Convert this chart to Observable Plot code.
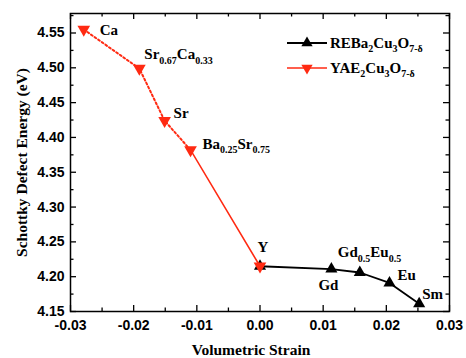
<!DOCTYPE html>
<html><head><meta charset="utf-8">
<script src="https://cdn.jsdelivr.net/npm/d3@7"></script>
<script src="https://cdn.jsdelivr.net/npm/@observablehq/plot@0.6"></script>
<style>body{margin:0;background:#fff} svg{display:block;background:#fff}</style>
</head><body><div id="chart"></div>
<script>
// ---- data ----
const reLabels = ["Y", "Gd", "Gd_{0.5}Eu_{0.5}", "Eu", "Sm"];
const reStrain = [0, 0.0113, 0.0158, 0.0205, 0.0252];
const reEnergy = [4.215, 4.211, 4.206, 4.191, 4.161];

const yaeLabels = ["Ca", "Sr_{0.67}Ca_{0.33}", "Sr", "Ba_{0.25}Sr_{0.75}", "Y"];
const yaeStrain = [-0.0279, -0.0191, -0.0151, -0.0110, 0];
const yaeEnergy = [4.555, 4.499, 4.424, 4.382, 4.215];

const seriesNames = ["REBa_{2}Cu_{3}O_{7-δ}", "YAE_{2}Cu_{3}O_{7-δ}"];
const xTicks = [-0.03, -0.02, -0.01, 0, 0.01, 0.02, 0.03];
const yTicks = [4.15, 4.20, 4.25, 4.30, 4.35, 4.40, 4.45, 4.50, 4.55];
const xTitle = "Volumetric Strain";
const yTitle = "Schottky Defect Energy (eV)";

// ---- build ----
const re = reLabels.map((l, i) => ({label: l, x: reStrain[i], y: reEnergy[i]}));
const yae = yaeLabels.map((l, i) => ({label: l, x: yaeStrain[i], y: yaeEnergy[i]}));
const RED = "#ff2a12";
const serif = "'Liberation Serif', 'Times New Roman', serif";
const sans = "'Liberation Sans', Arial, sans-serif";

const W = 466, H = 358, mL = 70, mR = 17, mT = 13, mB = 47;
const pw = W - mL - mR, ph = H - mT - mB;
const xMinor = d3.range(xTicks.length - 1).map(i => (xTicks[i] + xTicks[i + 1]) / 2);
const yMinor = d3.range(yTicks.length - 1).map(i => (yTicks[i] + yTicks[i + 1]) / 2).concat([yTicks[yTicks.length - 1] + 0.025]);

// label placement (pixel offsets from the point)
const place = {
  "Ca": [16, 1, "start"],
  "Sr_{0.67}Ca_{0.33}": [5, -14, "start"],
  "Sr": [9, -8, "start"],
  "Ba_{0.25}Sr_{0.75}": [12, -6, "start"],
  "Y": [3, -19, "middle"],
  "Gd": [-3, 16, "middle"],
  "Gd_{0.5}Eu_{0.5}": [-22, -20, "start"],
  "Eu": [8, -8, "start"],
  "Sm": [3, -10, "start"]
};
const allLabels = re.concat(yae.filter(d => d.label !== "Y"));

const tickStyle = {stroke: "black", strokeWidth: 1.3};
const marks = [
  Plot.frame({stroke: "black", strokeWidth: 1.5}),
  Plot.tickX(xTicks, {x: d => d, insetTop: ph - 6, ...tickStyle}),
  Plot.tickX(xTicks, {x: d => d, insetBottom: ph - 6, ...tickStyle}),
  Plot.tickX(xMinor, {x: d => d, insetTop: ph - 3.5, ...tickStyle}),
  Plot.tickX(xMinor, {x: d => d, insetBottom: ph - 3.5, ...tickStyle}),
  Plot.tickY(yTicks, {y: d => d, insetRight: pw - 6, ...tickStyle}),
  Plot.tickY(yTicks, {y: d => d, insetLeft: pw - 6, ...tickStyle}),
  Plot.tickY(yMinor, {y: d => d, insetRight: pw - 3.5, ...tickStyle}),
  Plot.tickY(yMinor, {y: d => d, insetLeft: pw - 3.5, ...tickStyle}),
  Plot.axisX({ticks: xTicks, tickSize: 0, tickPadding: 9, label: null, tickFormat: d => d.toFixed(2),
    fontSize: 14, fontWeight: "bold", fontFamily: sans, fill: "black"}),
  Plot.axisY({ticks: yTicks, tickSize: 0, tickPadding: 6, label: null, tickFormat: d => d.toFixed(2),
    fontSize: 14, fontWeight: "bold", fontFamily: sans, fill: "black"}),
  Plot.text([xTitle], {frameAnchor: "bottom", dy: 39, dx: -9, textAnchor: "middle", lineAnchor: "middle",
    fontSize: 15.5, fontWeight: "bold", fontFamily: serif, fill: "black"}),
  Plot.text([yTitle], {frameAnchor: "left", dx: -48, rotate: -90, textAnchor: "middle", lineAnchor: "middle",
    fontSize: 15.5, fontWeight: "bold", fontFamily: serif, fill: "black"}),
  // black series
  Plot.line(re, {x: "x", y: "y", stroke: "black", strokeWidth: 1.8}),
  Plot.dot(re, {x: "x", y: "y", symbol: "triangle", r: 4.5, fill: "black", stroke: "none"}),
  // red series
  Plot.line(yae.slice(0, 4), {x: "x", y: "y", stroke: RED, strokeWidth: 2, strokeDasharray: "2,2.4"}),
  Plot.line(yae.slice(3), {x: "x", y: "y", stroke: RED, strokeWidth: 1.5}),
  Plot.dot(yae, {x: "x", y: "y", symbol: "triangle", rotate: 180, r: 4.7, fill: RED, stroke: "none"}),
  ...allLabels.map(d => {
    const [dx, dy, anchor] = place[d.label];
    return Plot.text([d], {x: "x", y: "y", text: "label", dx, dy, textAnchor: anchor, lineAnchor: "middle",
      fontSize: 15, fontWeight: "bold", fontFamily: serif, fill: "black", className: "lbl"});
  })
];

const svg = Plot.plot({
  width: W, height: H, marginLeft: mL, marginRight: mR, marginTop: mT, marginBottom: mB,
  x: {domain: [-0.03, 0.03]},
  y: {domain: [4.15, 4.578]},
  style: {background: "white", color: "black"},
  marks
});

// subscripts
function subscriptify(el, subSize) {
  const s = el.textContent;
  const rx = /_\{([^}]*)\}|([^_]+)/g;
  let m, parts = [];
  while ((m = rx.exec(s))) parts.push(m[1] !== undefined ? {t: m[1], sub: true} : {t: m[2], sub: false});
  el.textContent = "";
  let inSub = false;
  const sel = d3.select(el);
  for (const p of parts) {
    const ts = sel.append("tspan").text(p.t);
    if (p.sub && !inSub) ts.attr("dy", 4.5);
    if (!p.sub && inSub) ts.attr("dy", -4.5);
    if (p.sub) ts.attr("font-size", subSize);
    inSub = p.sub;
  }
}
d3.select(svg).selectAll(".lbl text").each(function () { subscriptify(this, 10); });

// legend
const g = d3.select(svg).append("g").attr("text-anchor", "start");
const legendX = 287, legendY = [43, 68];
seriesNames.forEach((name, i) => {
  const col = i === 0 ? "black" : RED;
  const y = legendY[i];
  g.append("line").attr("x1", legendX).attr("x2", legendX + 40).attr("y1", y).attr("y2", y)
    .attr("stroke", col).attr("stroke-width", i === 0 ? 1.8 : 1.5);
  const sym = d3.symbol(d3.symbolTriangle, 55)();
  g.append("path").attr("d", sym).attr("fill", col)
    .attr("transform", `translate(${legendX + 20},${y})` + (i === 1 ? " rotate(180)" : ""));
  const t = g.append("text").attr("x", legendX + 43).attr("y", y).attr("dy", "0.32em")
    .attr("text-anchor", "start")
    .attr("font-family", serif).attr("font-weight", "bold").attr("font-size", 15).attr("fill", "black")
    .text(name);
  subscriptify(t.node(), 10);
});

document.getElementById("chart").appendChild(svg);
</script>
</body></html>
